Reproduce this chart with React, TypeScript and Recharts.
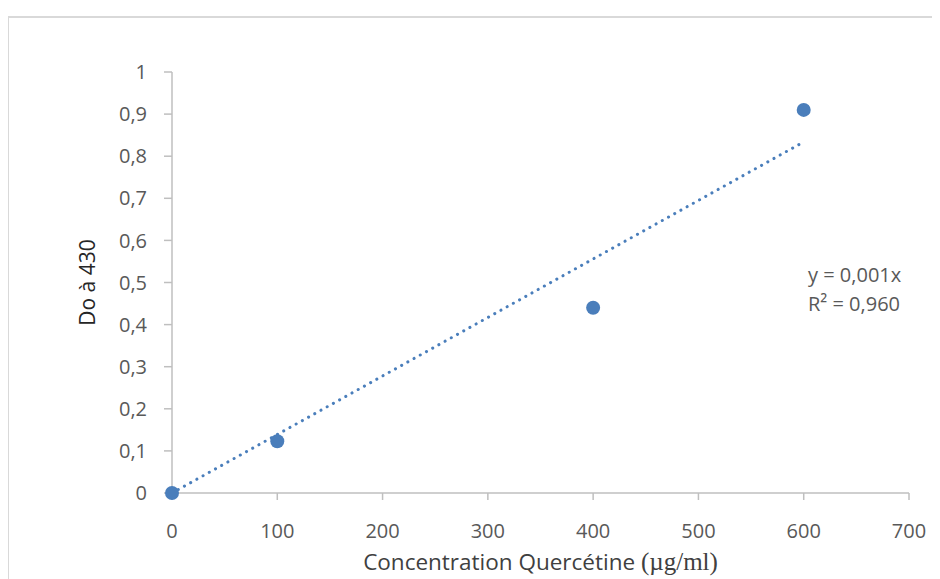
import { ScatterChart, Scatter, XAxis, YAxis } from "recharts";

// concentration (µg/ml) vs DO at 430 nm
const concentrations = [0, 100, 400, 600];
const absorbances = [0, 0.123, 0.44, 0.91];

// linear trendline ends
const trendX = [0, 600];
const trendY = [0, 0.834];

const xTicks = [0, 100, 200, 300, 400, 500, 600, 700];
const yTicks = [0, 0.1, 0.2, 0.3, 0.4, 0.5, 0.6, 0.7, 0.8, 0.9, 1];

const points = concentrations.map((x, i) => ({ x, y: absorbances[i] }));
const trend = trendX.map((x, i) => ({ x, y: trendY[i] }));

const FONT = "'Open Sans', 'Liberation Sans', sans-serif";
const TEXT = "#595959";
const AXIS = "#bfbfbf";
const BLUE = "#4a7ebb";

const XTitle = (props: any) => {
    const vb = props.viewBox || {};
    const cx = vb.x + vb.width / 2;
    return (
        <text x={cx} y={vb.y + 77} textAnchor="middle" fill="#404040" fontSize={22.5} fontFamily={FONT}>
            <tspan>Concentration Quercétine </tspan>
            <tspan fontFamily="'Liberation Serif', 'DejaVu Serif', serif" fontSize={25}>(µg/ml)</tspan>
        </text>
    );
};

const YTitle = (props: any) => {
    const vb = props.viewBox || {};
    const x = vb.x + 79;
    const y = vb.y + vb.height / 2;
    return (
        <text x={x} y={y} transform={`rotate(-90 ${x} ${y})`} textAnchor="middle" dominantBaseline="central"
            fill="#262626" fontSize={21} fontFamily={FONT}>
            Do à 430
        </text>
    );
};

export default function App() {
    return (
        <div style={{ position: "relative", width: 932, height: 571 }}>
            <style>{"body { overflow: hidden; }"}</style>
            <div style={{
                position: "absolute", left: -1, top: 8, width: 933, height: 563,
                borderTop: "2px solid #d9d9d9", borderLeft: "2px solid #d9d9d9", boxSizing: "border-box",
            }} />
            <ScatterChart width={932} height={571} margin={{ top: 64, right: 31, left: 0, bottom: 26 }}>
                <XAxis
                    type="number"
                    dataKey="x"
                    domain={[0, 700]}
                    ticks={xTicks}
                    interval={0}
                    height={60}
                    stroke={AXIS}
                    strokeWidth={1.5}
                    tickSize={7}
                    tickMargin={24}
                    tick={{ fill: TEXT, fontSize: 20, fontFamily: FONT }}
                    label={<XTitle />}
                />
                <YAxis
                    type="number"
                    dataKey="y"
                    domain={[0, 1]}
                    ticks={yTicks}
                    interval={0}
                    width={164}
                    stroke={AXIS}
                    strokeWidth={1.5}
                    tickSize={8}
                    tickMargin={17}
                    tick={{ fill: TEXT, fontSize: 20, fontFamily: FONT }}
                    tickFormatter={(v: number) => String(v).replace(".", ",")}
                    label={<YTitle />}
                />
                <Scatter
                    data={trend}
                    line={{ stroke: BLUE, strokeWidth: 3, strokeDasharray: "0.1 7", strokeLinecap: "round" }}
                    shape={() => null}
                    isAnimationActive={false}
                />
                <Scatter
                    data={points}
                    fill={BLUE}
                    shape={(p: any) => <circle cx={p.cx} cy={p.cy} r={7} fill={BLUE} />}
                    isAnimationActive={false}
                />
            </ScatterChart>
            <div style={{
                position: "absolute", left: 800, top: 252, color: TEXT, fontFamily: FONT,
                fontSize: 20, lineHeight: "29px", whiteSpace: "nowrap",
            }}>
                <div>y = 0,001x</div>
                <div>R² = 0,960</div>
            </div>
        </div>
    );
}
